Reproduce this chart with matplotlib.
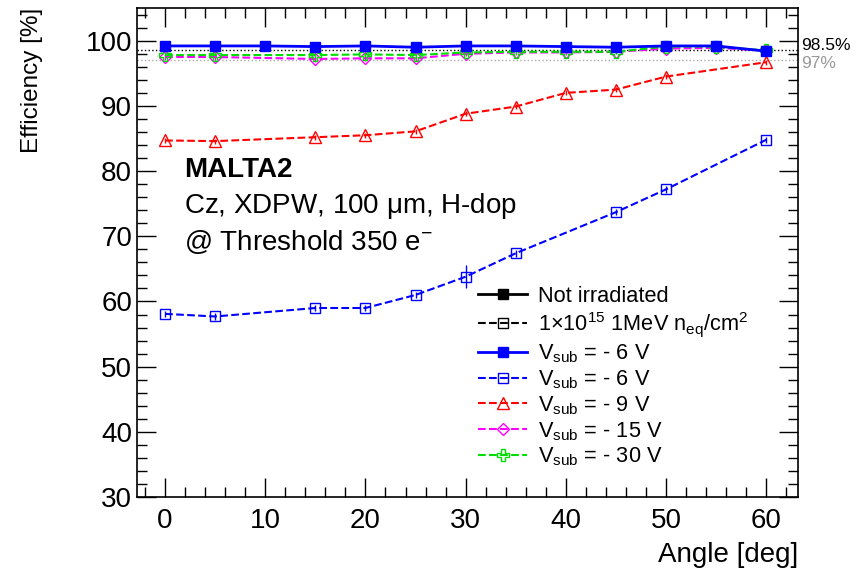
import matplotlib
matplotlib.use("Agg")
import matplotlib.pyplot as plt
from matplotlib.ticker import MultipleLocator

plt.rcParams['font.family'] = ['Liberation Sans', 'DejaVu Sans']
plt.rcParams['mathtext.fontset'] = 'custom'
plt.rcParams['mathtext.rm'] = 'Liberation Sans'
plt.rcParams['mathtext.it'] = 'Liberation Sans'

# Data
ang_full = [0, 5, 10, 15, 20, 25, 30, 35, 40, 45, 50, 55, 60]
eff_unirr_6 = [99.2, 99.2, 99.2, 99.1, 99.2, 99.0, 99.2, 99.2, 99.1, 99.0, 99.2, 99.2, 98.4]
ang_irr6 = [0, 5, 15, 20, 25, 30, 35, 45, 50, 60]
eff_irr6 = [58.1, 57.7, 59.0, 59.0, 61.0, 63.8, 67.4, 73.7, 77.2, 84.8]
err_irr6 = [0.5, 0.5, 0.5, 0.5, 0.5, 1.8, 0.5, 0.5, 0.5, 0.5]
ang_irr9 = [0, 5, 15, 20, 25, 30, 35, 40, 45, 50, 60]
eff_irr9 = [84.7, 84.6, 85.2, 85.5, 86.1, 88.8, 89.9, 92.0, 92.5, 94.5, 96.7]
ang_irr15 = [0, 5, 15, 20, 25, 30, 35, 40, 45, 50, 55, 60]
eff_irr15 = [97.5, 97.5, 97.2, 97.3, 97.3, 98.0, 98.2, 98.2, 98.3, 98.8, 98.9, 98.5]
ang_irr30 = [0, 5, 15, 20, 25, 30, 35, 40, 45, 50, 55, 60]
eff_irr30 = [97.8, 97.8, 97.8, 97.9, 97.8, 98.2, 98.3, 98.3, 98.3, 99.1, 99.1, 98.5]
ref_lines = [98.5, 97.0]
ref_labels = ["98.5%", "97%"]

fig = plt.figure(figsize=(8.62, 5.80), dpi=100)
ax = fig.add_axes([0.159, 0.143, 0.767, 0.843])

ax.axhline(ref_lines[0], color='black', ls=':', lw=1.0, zorder=1)
ax.axhline(ref_lines[1], color='#aaaaaa', ls=':', lw=1.0, zorder=1)

ms = 7.5
ax.errorbar(ang_full, eff_unirr_6, yerr=0.15, color='blue', ls='-', lw=2, marker='s',
            ms=ms, mfc='blue', mec='blue', capsize=0, zorder=5)
ax.errorbar(ang_irr6, eff_irr6, yerr=err_irr6, color='blue', ls='--', lw=1.5, marker='s',
            ms=ms, mfc='none', mec='blue', capsize=0, elinewidth=1, zorder=4)
ax.errorbar(ang_irr9, eff_irr9, yerr=0.4, color='red', ls='--', lw=1.5, marker='^',
            ms=ms+1, mfc='none', mec='red', capsize=0, elinewidth=1, zorder=4)
ax.errorbar(ang_irr15, eff_irr15, yerr=0.4, color='magenta', ls='--', lw=1.5, marker='D',
            ms=ms-1, mfc='none', mec='magenta', capsize=0, elinewidth=1, zorder=3)
ax.errorbar(ang_irr30, eff_irr30, yerr=0.4, color='#00dd00', ls='--', lw=1.5, marker='P',
            ms=ms+1, mfc='none', mec='#00dd00', capsize=0, elinewidth=1, zorder=3)

# legend dummies
h = []
h.append(ax.plot([], [], color='black', ls='-', lw=2, marker='s', ms=ms, mfc='black')[0])
h.append(ax.plot([], [], color='black', ls='--', lw=1.5, marker='s', ms=ms, mfc='none')[0])
h.append(ax.plot([], [], color='blue', ls='-', lw=2, marker='s', ms=ms, mfc='blue')[0])
h.append(ax.plot([], [], color='blue', ls='--', lw=1.5, marker='s', ms=ms, mfc='none')[0])
h.append(ax.plot([], [], color='red', ls='--', lw=1.5, marker='^', ms=ms+1, mfc='none')[0])
h.append(ax.plot([], [], color='magenta', ls='--', lw=1.5, marker='D', ms=ms-1, mfc='none')[0])
h.append(ax.plot([], [], color='#00dd00', ls='--', lw=1.5, marker='P', ms=ms+1, mfc='none')[0])
labels = ["Not irradiated",
          r"1$\times$10$^{15}$ 1MeV n$_{\mathrm{eq}}$/cm$^{2}$",
          r"V$_{\mathrm{sub}}$ = - 6 V",
          r"V$_{\mathrm{sub}}$ = - 6 V",
          r"V$_{\mathrm{sub}}$ = - 9 V",
          r"V$_{\mathrm{sub}}$ = - 15 V",
          r"V$_{\mathrm{sub}}$ = - 30 V"]
ax.legend(h, labels, loc='upper left', bbox_to_anchor=(0.516, 0.432), frameon=False,
          fontsize=15.7, handlelength=2.25, handletextpad=0.5, labelspacing=0.15,
          borderaxespad=0, borderpad=0)

ax.set_xlim(-2.8, 63.2)
ax.set_ylim(30, 105)
ax.xaxis.set_major_locator(MultipleLocator(10))
ax.xaxis.set_minor_locator(MultipleLocator(2))
ax.yaxis.set_major_locator(MultipleLocator(10))
ax.yaxis.set_minor_locator(MultipleLocator(2))
ax.tick_params(which='both', direction='in', top=True, right=True, labelsize=20)
ax.tick_params(which='major', length=14, width=1)
ax.tick_params(which='minor', length=7.5, width=1)
ax.tick_params(axis='x', which='major', pad=8)
for s in ax.spines.values():
    s.set_linewidth(1.2)

ax.set_xlabel("Angle [deg]", fontsize=20, loc='right')
ax.xaxis.set_label_coords(1.0, -0.092)
ax.set_ylabel("Efficiency [%]", fontsize=17.5, loc='top')
ax.yaxis.set_label_coords(-0.142, 1.0)

ax.text(1.005, ref_lines[0] + 0.7, ref_labels[0], transform=ax.get_yaxis_transform(),
        fontsize=12.5, va='center', ha='left', color='black')
ax.text(1.005, ref_lines[1] - 0.5, ref_labels[1], transform=ax.get_yaxis_transform(),
        fontsize=12.5, va='center', ha='left', color='#999999')

ax.text(1.9, 80.1, "MALTA2", fontsize=20, fontweight='bold', va='center')
ax.text(1.9, 74.7, r"Cz, XDPW, 100 $\mathrm{\mu}$m, H-dop", fontsize=20, va='center')
ax.text(1.9, 69.2, r"@ Threshold 350 e$^{\mathrm{-}}$", fontsize=20, va='center')

fig.savefig("out.png", dpi=100)
